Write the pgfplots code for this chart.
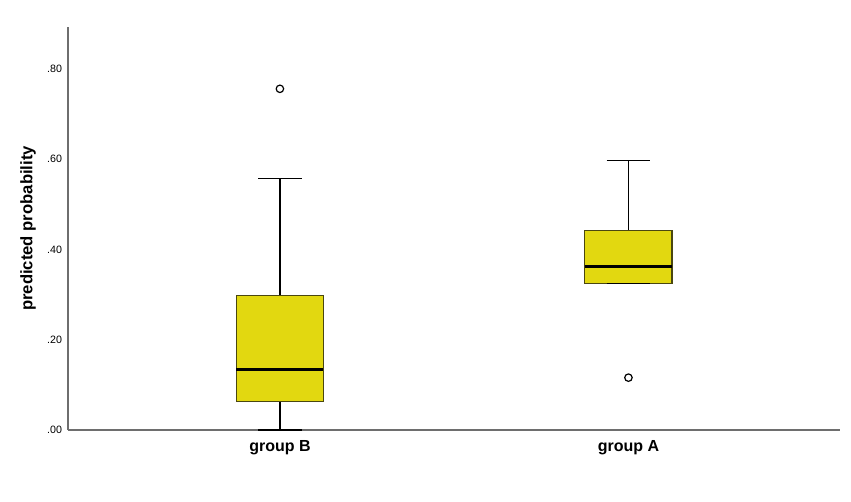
\documentclass[border=0pt]{standalone}
\usepackage{fontspec}
\setmainfont{Liberation Sans}
\usepackage{pgfplots}
\pgfplotsset{compat=1.18}
\definecolor{boxfill}{HTML}{E2D810}
\definecolor{boxedge}{HTML}{4A4710}
\definecolor{axgray}{HTML}{6E6E6E}
\begin{document}
\begin{tikzpicture}
\path[use as bounding box] (0,0) rectangle (638.25pt,375.75pt);
\begin{axis}[
  at={(51pt,53.25pt)}, anchor=south west,
  scale only axis, width=579pt, height=302.25pt,
  xmin=0.392, xmax=2.607, ymin=0, ymax=0.893,
  axis x line*=bottom, axis y line*=left,
  axis line style={axgray, line width=0.9pt, -},
  xtick={1,2}, xticklabels={group B, group A},
  ytick={0,0.2,0.4,0.6,0.8}, yticklabels={.00,.20,.40,.60,.80},
  major tick length=0pt,
  xticklabel style={font=\fontsize{12pt}{14pt}\selectfont\bfseries, yshift=-4.5pt},
  yticklabel style={font=\fontsize{8pt}{9pt}\selectfont, xshift=-1pt},
  ylabel={predicted probability},
  ylabel style={font=\fontsize{12.5pt}{14pt}\selectfont\bfseries, at={(axis description cs:-0.0518,0.5)}, anchor=center},
  clip=false,
]
% group B (x=1): whiskers
\addplot[black, line width=1pt] coordinates {(1,0.297) (1,0.557)};
\addplot[black, line width=1pt] coordinates {(1,0.0) (1,0.063)};
\addplot[black, line width=1pt] coordinates {(0.9375,0.557) (1.0625,0.557)};
\addplot[black, line width=1pt] coordinates {(0.9375,0.0) (1.0625,0.0)};
% group B box
\addplot[draw=boxedge, fill=boxfill, line width=0.8pt] coordinates {(0.875,0.063) (1.125,0.063) (1.125,0.297) (0.875,0.297)} -- cycle;
\addplot[black, line width=2.2pt] coordinates {(0.875,0.135) (1.125,0.135)};
% group B outlier
\addplot[only marks, mark=o, mark size=2.8pt, mark options={black, line width=0.9pt}] coordinates {(1,0.756)};
% group A (x=2): whiskers
\addplot[black, line width=1pt] coordinates {(2,0.443) (2,0.597)};
\addplot[black, line width=1pt] coordinates {(1.9375,0.597) (2.0625,0.597)};
% group A box
\addplot[draw=boxedge, fill=boxfill, line width=0.8pt] coordinates {(1.875,0.325) (2.125,0.325) (2.125,0.443) (1.875,0.443)} -- cycle;
\addplot[black, line width=1pt] coordinates {(1.9375,0.325) (2.0625,0.325)};
\addplot[black, line width=2.2pt] coordinates {(1.875,0.362) (2.125,0.362)};
% group A outlier
\addplot[only marks, mark=o, mark size=2.8pt, mark options={black, line width=0.9pt}] coordinates {(2,0.116)};
\end{axis}
\end{tikzpicture}
\end{document}
